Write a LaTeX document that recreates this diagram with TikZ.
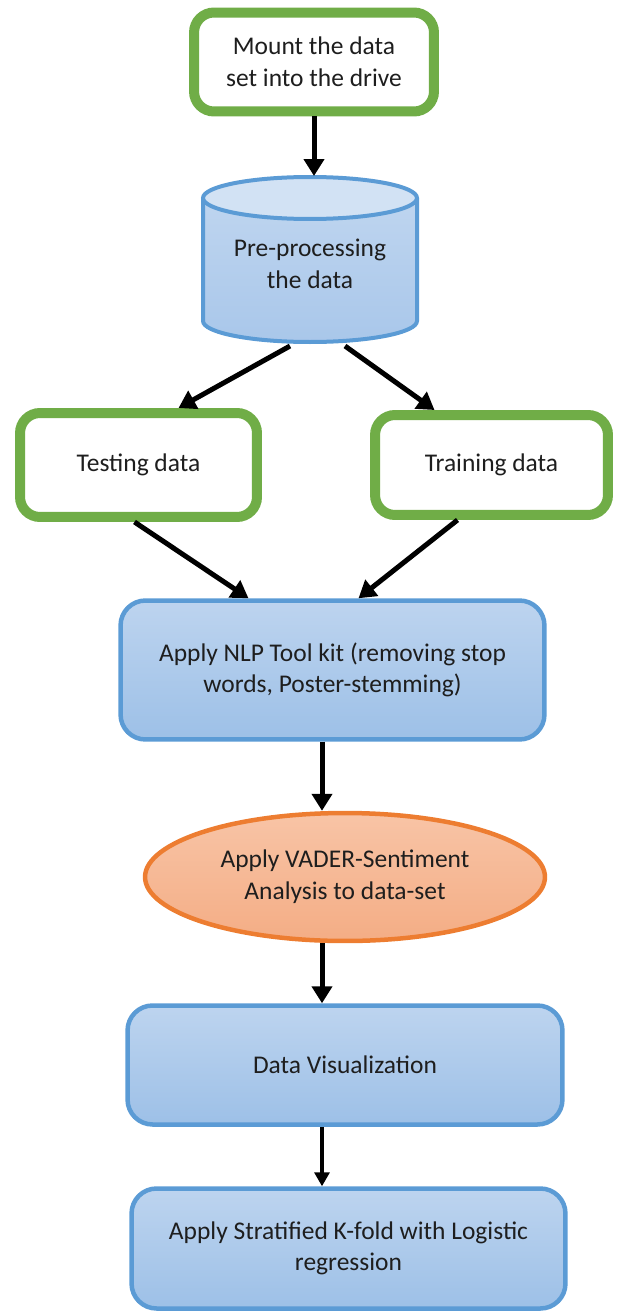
\documentclass[tikz,border=0pt]{standalone}
\usepackage{fontspec}
\setmainfont{Carlito}
\usetikzlibrary{shapes.geometric,arrows.meta,calc}
\definecolor{boxgreen}{HTML}{70AD47}
\definecolor{boxblue}{HTML}{5B9BD5}
\definecolor{bluetop}{HTML}{BDD4EF}
\definecolor{bluebot}{HTML}{9DC0E7}
\definecolor{cylbody}{HTML}{A9C7EA}
\definecolor{cyltop}{HTML}{D2E2F4}
\definecolor{boxorange}{HTML}{ED7D31}
\definecolor{orangetop}{HTML}{F8C4A6}
\definecolor{orangebot}{HTML}{F4AD85}
\definecolor{txt}{HTML}{1E1E1E}

\begin{document}
\begin{tikzpicture}
  [x=0.02cm, y=-0.02cm,
   every node/.style={font=\fontsize{14.5}{18}\selectfont, text=txt, align=center, inner sep=0pt},
   greenbox/.style={draw=boxgreen, line width=0.2cm, rounded corners=0.4cm, fill=white},
   bluebox/.style={draw=boxblue, line width=0.09cm, rounded corners=0.5cm, top color=bluetop, bottom color=bluebot},
   oval/.style={ellipse, draw=boxorange, line width=0.09cm, top color=orangetop, bottom color=orangebot},
   arr/.style={line width=0.1cm, -{Triangle[width=0.4cm,length=0.34cm]}},
   thinarr/.style={line width=0.065cm, -{Triangle[width=0.3cm,length=0.28cm]}}]
  \useasboundingbox (0,0) rectangle (618,1311);

  \node[greenbox, minimum width=4.8cm, minimum height=1.98cm] (mount) at (314,62) {Mount the data\\set into the drive};

  \draw[boxblue, line width=0.08cm, top color=cylbody!75!white, bottom color=cylbody]
    (203,198) -- (203,321) .. controls (203,332.6) and (250.9,342) .. (310,342)
    .. controls (369.1,342) and (417,332.6) .. (417,321) -- (417,198);
  \draw[boxblue, line width=0.08cm, fill=cyltop] (310,198) ellipse [x radius=2.14cm, y radius=0.42cm];
  \node (prep) at (310,264) {Pre-processing\\the data};
  \coordinate (ptop) at (310,176);
  \coordinate (pbl) at (290,346);
  \coordinate (pbr) at (345,346);
  \coordinate (axis) at (322,0);

  \node[greenbox, minimum width=4.74cm, minimum height=2.08cm] (test) at (138.5,465) {Testing data};
  \node[greenbox, minimum width=4.66cm, minimum height=2.0cm] (train) at (491.5,465) {Training data};
  \node[bluebox, minimum width=8.48cm, minimum height=2.78cm] (nlp) at (332.5,670)
    {Apply NLP Tool kit (removing stop\\words, Poster-stemming)};
  \node[oval, minimum width=8.0cm, minimum height=2.56cm] (vader) at (345,877)
    {Apply VADER-Sentiment\\Analysis to data-set};
  \node[bluebox, minimum width=8.7cm, minimum height=2.38cm] (vis) at (345,1065) {Data Visualization};
  \node[bluebox, minimum width=8.68cm, minimum height=2.4cm] (strat) at (348.5,1248.5)
    {Apply Stratified K-fold with Logistic\\regression};

  \draw[arr] (mount.south) -- (mount.south |- ptop);
  \draw[arr] (pbl) -- ($(test.north)+(40,0)$);
  \draw[arr] (pbr) -- ($(train.north)+(-57,0)$);
  \draw[arr] ($(test.south)+(-4,0)$) -- ($(nlp.north)+(-84,0)$);
  \draw[arr] ($(train.south)+(-34,0)$) -- ($(nlp.north)+(26,0)$);
  \draw[arr] (nlp.south -| axis) -- (vader.north -| axis);
  \draw[arr] (vader.south -| axis) -- (vis.north -| axis);
  \draw[thinarr] (vis.south -| axis) -- (strat.north -| axis);
\end{tikzpicture}
\end{document}
